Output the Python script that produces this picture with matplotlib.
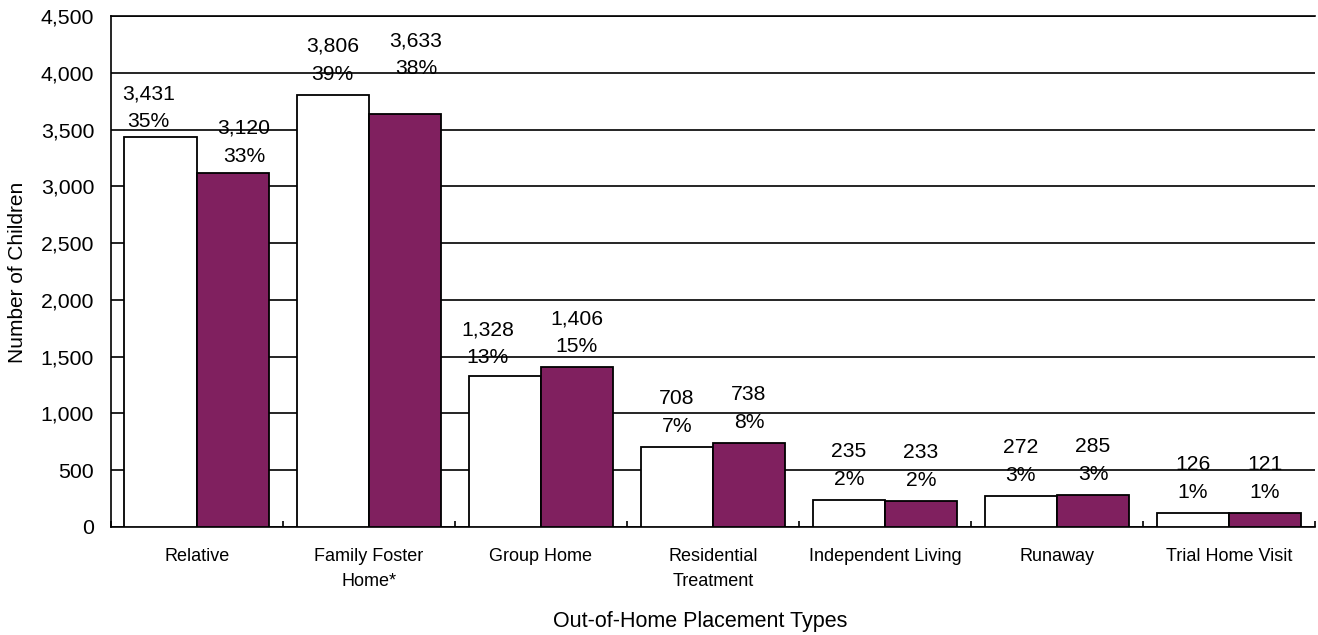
import matplotlib
matplotlib.use("Agg")
import matplotlib.pyplot as plt
import numpy as np

categories = ["Relative", "Family Foster\nHome*", "Group Home", "Residential\nTreatment",
              "Independent Living", "Runaway", "Trial Home Visit"]
series_a = [3431, 3806, 1328, 708, 235, 272, 126]
series_b = [3120, 3633, 1406, 738, 233, 285, 121]
pct_a = [35, 39, 13, 7, 2, 3, 1]
pct_b = [33, 38, 15, 8, 2, 3, 1]
y_ticks = [0, 500, 1000, 1500, 2000, 2500, 3000, 3500, 4000, 4500]

plt.rcParams['font.family'] = ['Liberation Sans', 'DejaVu Sans']

W, H = 1318, 635
fig = plt.figure(figsize=(W / 100, H / 100), dpi=100)
ax = fig.add_axes([110.7 / W, 1 - 527 / H, (1315 - 110.7) / W, (527 - 16) / H])

x = np.arange(len(categories))
bw = 0.42
purple = '#80205F'
bars_a = ax.bar(x - bw / 2, series_a, bw, color='white', edgecolor='black', linewidth=1.3, zorder=3)
bars_b = ax.bar(x + bw / 2, series_b, bw, color=purple, edgecolor='black', linewidth=1.3, zorder=3)

ax.set_xlim(-0.5, len(categories) - 0.5)
ax.set_ylim(0, 4500)
ax.set_yticks(y_ticks)
ax.set_yticklabels([f"{v:,}" for v in y_ticks], fontsize=15.3)
ax.yaxis.grid(True, color='black', linewidth=1.2, zorder=1)
ax.set_axisbelow(True)
ax.tick_params(axis='y', length=0, pad=12)

ax.set_xticks(x)
ax.set_xticklabels(categories, fontsize=13, linespacing=1.6)
ax.set_xticks(np.arange(-0.5, len(categories)), minor=True)
ax.tick_params(axis='x', which='major', length=0, pad=15)
ax.tick_params(axis='x', which='minor', direction='in', length=4.3, width=1.2, color='black')

for s in ['left', 'bottom', 'top']:
    ax.spines[s].set_color('black')
    ax.spines[s].set_linewidth(1.2)
ax.spines['right'].set_visible(False)

# label nudges in pixels (dx, dy) relative to default placement
nudge = {(0, 0): (-12, -5), (0, 1): (11, -4), (1, 1): (11, 25), (2, 0): (-17, -2)}

def label(bars, vals, pcts, sidx):
    for i, (b, v, p) in enumerate(zip(bars, vals, pcts)):
        dx, dy = nudge.get((i, sidx), (0, 0))
        ax.annotate(f"{v:,}\n{p}%", (b.get_x() + b.get_width() / 2, v),
                    xytext=(dx * 0.72, (11 + dy) * 0.72), textcoords='offset points',
                    ha='center', va='bottom', fontsize=15.2, linespacing=1.6,
                    zorder=5, annotation_clip=False)

label(bars_a, series_a, pct_a, 0)
label(bars_b, series_b, pct_b, 1)

fig.text(18 / W, 1 - 272 / H, "Number of Children", rotation=90, ha='center', va='center', fontsize=15)
fig.text(700 / W, 1 - 622 / H, "Out-of-Home Placement Types", ha='center', va='center', fontsize=15.5)

fig.savefig("out.png", dpi=100)
